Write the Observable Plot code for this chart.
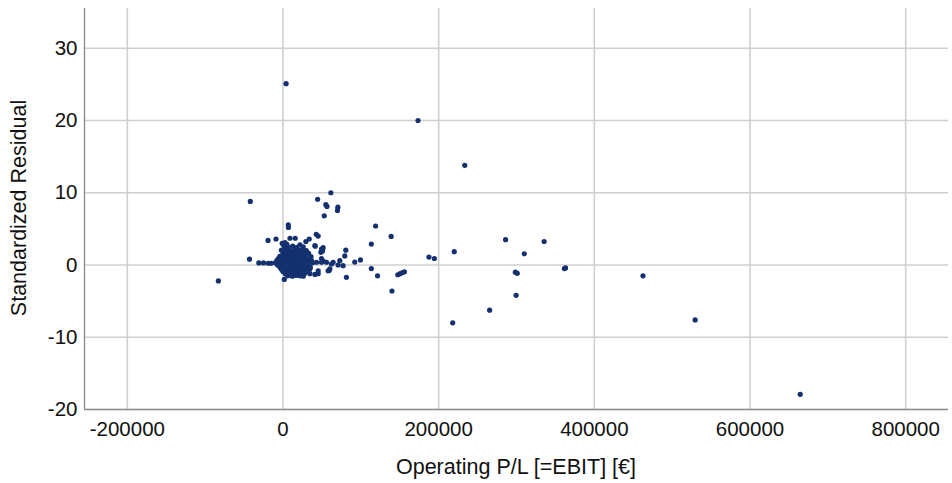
<!DOCTYPE html>
<html>
<head>
<meta charset="utf-8">
<script src="https://cdn.jsdelivr.net/npm/d3@7"></script>
<script src="https://cdn.jsdelivr.net/npm/@observablehq/plot@0.6"></script>
<style>
  html, body { margin: 0; padding: 0; background: #fff; }
  #chart { width: 952px; height: 483px; }
</style>
</head>
<body>
<div id="chart"></div>
<script>
// Tick values
const xTicks = [-200000, 0, 200000, 400000, 600000, 800000];
const yTicks = [-20, -10, 0, 10, 20, 30];

// Scattered points: [Operating P/L (EBIT) in €, standardized residual]
const outliers = [
  [4000, 25.1], [173500, 20.0], [233500, 13.8], [-42000, 8.8], [44500, 9.1],
  [61500, 10.0], [55000, 8.35], [56500, 8.1], [70500, 8.0], [70000, 7.55],
  [53000, 6.8], [6800, 5.55], [7000, 5.2], [119000, 5.4], [42700, 4.25],
  [45200, 4.0], [139000, 3.95], [-19200, 3.4], [-9000, 3.6], [9000, 3.7],
  [15700, 3.7], [29400, 3.25], [33700, 3.6], [21800, 2.8], [41400, 2.6],
  [113500, 2.9], [51600, 2.4], [50800, 1.95], [80700, 2.05], [79400, 1.25],
  [187500, 1.1], [194500, 0.9], [220000, 1.85], [286000, 3.5], [335500, 3.25],
  [310000, 1.55], [361500, -0.5], [363000, -0.4], [298500, -1.0], [301000, -1.15],
  [299500, -4.2], [265500, -6.25], [218000, -8.0], [113500, -0.5], [121500, -1.5],
  [140000, -3.6], [147500, -1.35], [150500, -1.2], [153500, -1.05], [156000, -0.95],
  [462500, -1.5], [529500, -7.6], [664500, -17.9], [-83000, -2.2], [-43000, 0.8],
  [-31000, 0.28], [-25000, 0.28], [-18800, 0.24], [-15400, 0.24], [49500, 0.9],
  [51600, 0.55], [92200, 0.4], [99500, 0.7], [81500, -1.7], [59300, -0.75],
  [45200, -1.2], [41000, -1.3], [34600, -1.2], [1700, -2.0], [73000, 0.6],
  [64400, 0.38], [70800, 0.0], [77200, -0.1], [60200, -0.55], [36700, 0.6],
  [43100, 0.38], [49500, 0.38], [56000, 0.38], [62400, 0.14], [34600, -0.55],
  [45200, -0.8], [58000, -0.8], [41000, 2.7], [49500, 2.2], [48700, 1.75]
];

// Dense cluster near zero
const cluster = [
  [500, 2.8], [2600, 3.1], [5000, 2.85], [-1000, 3.0],
  [2000, 2.55], [8000, 2.4], [12500, 2.6], [18000, 2.45], [26000, 2.5],
  [-2000, 2.05], [3000, 1.95], [7000, 2.1], [11000, 1.9], [15000, 2.05], [20000, 1.95], [24000, 2.1], [30000, 2.0],
  [0, 1.6], [4000, 1.65], [9000, 1.55], [13000, 1.7], [17000, 1.6], [22000, 1.55], [27000, 1.65], [33000, 1.6],
  [-4000, 1.2], [1000, 1.25], [5000, 1.15], [8000, 1.3], [11000, 1.2], [14000, 1.25], [19000, 1.15], [23000, 1.2], [29000, 1.3], [36000, 1.15],
  [-6000, 0.9], [-1000, 0.95], [2000, 0.85], [6000, 0.9], [10000, 0.95], [13000, 0.85], [16000, 0.9], [21000, 0.95], [25000, 0.85], [31000, 0.9],
  [-8000, 0.6], [-3000, 0.55], [1000, 0.65], [4000, 0.6], [7000, 0.55], [10000, 0.65], [14000, 0.6], [18000, 0.55], [22000, 0.65], [27000, 0.6], [33000, 0.55],
  [-10000, 0.3], [-5000, 0.35], [0, 0.25], [3000, 0.3], [6000, 0.35], [9000, 0.25], [12000, 0.3], [15000, 0.35], [19000, 0.25], [24000, 0.3], [29000, 0.35], [38000, 0.3],
  [-7000, 0.0], [-2000, 0.05], [2000, -0.05], [5000, 0.0], [8000, 0.05], [11000, -0.05], [16000, 0.0], [20000, 0.05], [26000, -0.05], [32000, 0.0],
  [-4000, -0.3], [0, -0.25], [4000, -0.35], [7000, -0.3], [10000, -0.25], [13000, -0.35], [17000, -0.3], [22000, -0.25], [28000, -0.35], [35000, -0.3],
  [-2000, -0.6], [2000, -0.65], [6000, -0.55], [9000, -0.6], [12000, -0.65], [15000, -0.55], [20000, -0.6], [25000, -0.65], [31000, -0.55],
  [0, -0.9], [5000, -0.95], [9000, -0.85], [14000, -0.9], [19000, -0.95], [24000, -0.85], [30000, -0.9],
  [3000, -1.2], [8000, -1.25], [13000, -1.15], [18000, -1.2], [23000, -1.25], [28000, -1.15],
  [6000, -1.5], [12000, -1.55], [17000, -1.45], [22000, -1.5], [26000, -1.55]
];

const data = outliers.concat(cluster).map(([ebit, resid]) => ({ebit, resid}));

const xDomain = [-255000, 855000];
const yDomain = [-20, 35.5];

const plot = Plot.plot({
  width: 952,
  height: 483,
  marginLeft: 84,
  marginRight: 4,
  marginTop: 8,
  marginBottom: 74,
  x: {domain: xDomain},
  y: {domain: yDomain},
  style: {fontFamily: "'Liberation Sans', Arial, sans-serif", fontSize: "20px", background: "#fff", color: "#111"},
  marks: [
    Plot.gridX(xTicks, {stroke: "#cfcfcf", strokeOpacity: 1, strokeWidth: 1.6}),
    Plot.gridY(yTicks, {stroke: "#cfcfcf", strokeOpacity: 1, strokeWidth: 1.6}),
    Plot.ruleX([xDomain[0]], {stroke: "#8f8f8f", strokeWidth: 1.4}),
    Plot.ruleY([yDomain[0]], {stroke: "#8f8f8f", strokeWidth: 1.4}),
    Plot.axisX(xTicks, {tickSize: 0, tickPadding: 12, label: null, fontSize: 20.5, tickFormat: d => String(d)}),
    Plot.axisY(yTicks, {tickSize: 0, tickPadding: 7, label: null, fontSize: 20.5, tickFormat: d => String(d)}),
    Plot.dot(data, {x: "ebit", y: "resid", r: 2.6, fill: "#14306f", stroke: "none"})
  ]
});

const svg = d3.select(plot);
svg.append("text")
  .attr("transform", "translate(18,208) rotate(-90)")
  .attr("text-anchor", "middle")
  .attr("dy", "0.35em")
  .attr("font-size", 21.5)
  .attr("fill", "#111")
  .text("Standardized Residual");
svg.append("text")
  .attr("x", 516)
  .attr("y", 474)
  .attr("text-anchor", "middle")
  .attr("font-size", 21.5)
  .attr("fill", "#111")
  .text("Operating P/L [=EBIT] [€]");

document.getElementById("chart").appendChild(plot);
</script>
</body>
</html>
